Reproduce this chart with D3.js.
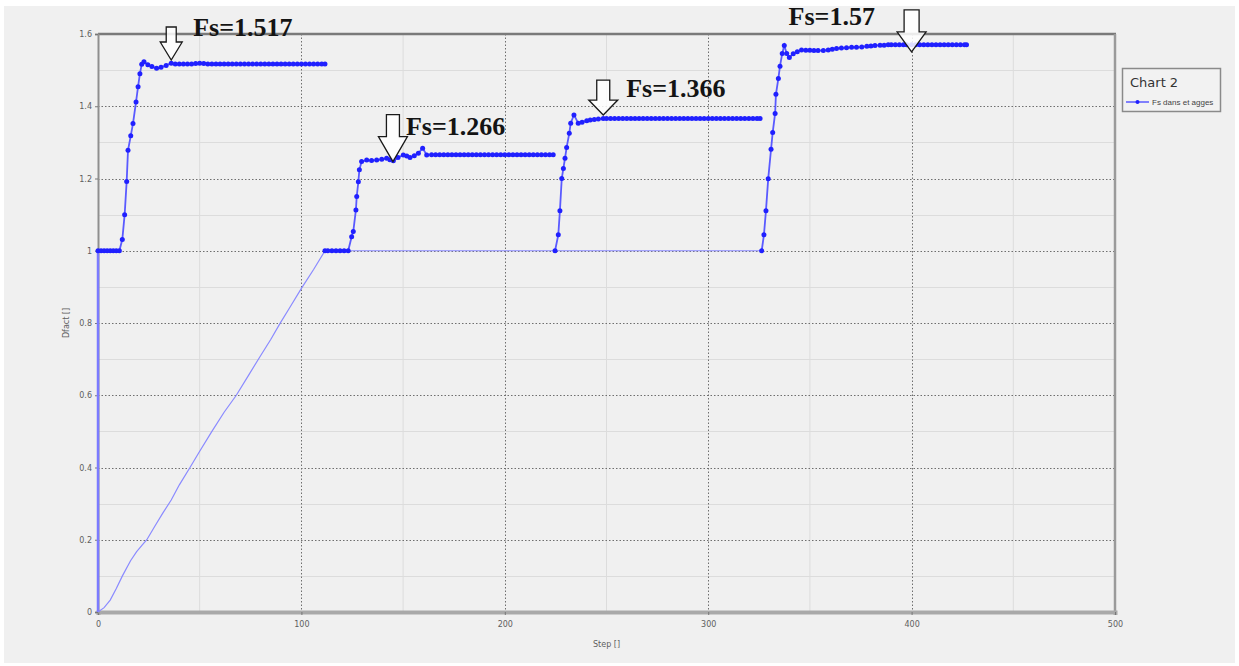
<!DOCTYPE html>
<html>
<head>
<meta charset="utf-8">
<script src="https://cdn.jsdelivr.net/npm/d3@7"></script>
<style>
  html, body { margin: 0; padding: 0; background: #ffffff; }
  svg { display: block; }
</style>
</head>
<body>
<svg id="chart" width="1239" height="666"></svg>
<script>
// ---- data -------------------------------------------------------------
const xTicks = [0, 100, 200, 300, 400, 500];
const xTickLabels = ["0", "100", "200", "300", "400", "500"];
const yTicks = [0, 0.2, 0.4, 0.6, 0.8, 1, 1.2, 1.4, 1.6];
const yTickLabels = ["0", "0.2", "0.4", "0.6", "0.8", "1", "1.2", "1.4", "1.6"];

// thin trace: initial loading ramp and the link between stages
const baseStep = [0, 0, 3, 6, 9, 12, 16, 19, 22, 24, 28, 32, 36, 40, 45, 50, 56, 62, 68, 74, 80, 85, 89.5, 94, 100, 106, 111.6, 224, 327];
const baseFs   = [1, 0, 0.012, 0.033, 0.065, 0.1, 0.142, 0.167, 0.187, 0.2, 0.238, 0.275, 0.31, 0.352, 0.398, 0.445, 0.5, 0.553, 0.6, 0.655, 0.71, 0.755, 0.799, 0.84, 0.896, 0.948, 1, 1, 1];

// stage 1
const stage1Step = [0, 1.5, 3, 4.5, 6, 7.5, 9, 10.5, 11.95, 13.1, 14.1, 14.75, 16.1, 17.2, 18.7, 19.7, 20.6, 21.5, 22.6, 24.5, 26.5, 28.8, 31, 33.5, 36,
  38, 40, 42, 44, 46, 48, 50, 52, 54, 56, 58, 60, 62, 64, 66, 68, 70, 72, 74, 76, 78, 80, 82, 84, 86, 88, 90, 92, 94, 96, 98, 100, 102, 104, 106, 108, 110, 111.6];
const stage1Fs = [1, 1, 1, 1, 1, 1, 1, 1, 1.031, 1.1, 1.192, 1.278, 1.318, 1.352, 1.412, 1.454, 1.49, 1.516, 1.523, 1.515, 1.51, 1.505, 1.508, 1.513, 1.519,
  1.517, 1.517, 1.517, 1.517, 1.517, 1.518, 1.519, 1.518, 1.517, 1.517, 1.517, 1.517, 1.517, 1.517, 1.517, 1.517, 1.517, 1.517, 1.517, 1.517, 1.517, 1.517, 1.517, 1.517, 1.517, 1.517, 1.517, 1.517, 1.517, 1.517, 1.517, 1.517, 1.517, 1.517, 1.517, 1.517, 1.517, 1.517];

// stage 2
const stage2Step = [111.6, 113, 115, 117, 119, 121, 123, 124.7, 125.5, 126.8, 127.2, 128, 128.5, 129.6, 132.1, 134.5, 137, 139.5, 141.9, 143.5, 145.2, 147.5, 150.1, 151.8, 153.4, 155.5, 157.5, 159.6, 161.6, 164,
  166, 168, 170, 172, 174, 176, 178, 180, 182, 184, 186, 188, 190, 192, 194, 196, 198, 200, 202, 204, 206, 208, 210, 212, 214, 216, 218, 220, 222, 223.8];
const stage2Fs = [1, 1, 1, 1, 1, 1, 1, 1.039, 1.053, 1.113, 1.15, 1.191, 1.224, 1.247, 1.251, 1.25, 1.251, 1.253, 1.256, 1.252, 1.249, 1.258, 1.265, 1.262, 1.258, 1.263, 1.27, 1.284, 1.265, 1.266,
  1.266, 1.266, 1.266, 1.266, 1.266, 1.266, 1.266, 1.266, 1.266, 1.266, 1.266, 1.266, 1.266, 1.266, 1.266, 1.266, 1.266, 1.266, 1.266, 1.266, 1.266, 1.266, 1.266, 1.266, 1.266, 1.266, 1.266, 1.266, 1.266, 1.266];

// stage 3
const stage3Step = [224.7, 226.3, 227.1, 228, 228.8, 229.6, 230.4, 231.7, 232.4, 234, 236.1, 238, 240.3, 242, 244, 246, 248.4,
  250, 252, 254, 256, 258, 260, 262, 264, 266, 268, 270, 272, 274, 276, 278, 280, 282, 284, 286, 288, 290, 292, 294, 296, 298, 300, 302, 304, 306, 308, 310, 312, 314, 316, 318, 320, 322, 324, 325.5];
const stage3Fs = [1, 1.044, 1.111, 1.2, 1.228, 1.256, 1.286, 1.325, 1.353, 1.376, 1.353, 1.356, 1.36, 1.362, 1.363, 1.365, 1.366,
  1.366, 1.366, 1.366, 1.366, 1.366, 1.366, 1.366, 1.366, 1.366, 1.366, 1.366, 1.366, 1.366, 1.366, 1.366, 1.366, 1.366, 1.366, 1.366, 1.366, 1.366, 1.366, 1.366, 1.366, 1.366, 1.366, 1.366, 1.366, 1.366, 1.366, 1.366, 1.366, 1.366, 1.366, 1.366, 1.366, 1.366, 1.366, 1.366];

// stage 4
const stage4Step = [326.3, 327.4, 328.4, 329.5, 330.9, 331.7, 332.9, 333.3, 334.5, 335.3, 336.4, 337.4, 338.6, 339.9, 341.8, 343.8, 345.9, 348, 350, 352, 354, 356.6, 359, 361, 363.1, 365.5, 368, 370.5, 372.9, 375.5, 378, 380, 382, 384.5, 386.5, 388.5, 390, 392, 394, 396, 397.6,
  400, 402, 404, 406, 408, 410, 412, 414, 416, 418, 420, 422, 424, 426, 427];
const stage4Fs = [1, 1.044, 1.111, 1.199, 1.281, 1.327, 1.38, 1.433, 1.477, 1.511, 1.546, 1.568, 1.546, 1.535, 1.545, 1.551, 1.556, 1.555, 1.555, 1.554, 1.554, 1.554, 1.556, 1.558, 1.56, 1.561, 1.562, 1.563, 1.563, 1.564, 1.566, 1.567, 1.568, 1.569, 1.569, 1.57, 1.57, 1.57, 1.57, 1.57, 1.57,
  1.57, 1.57, 1.57, 1.57, 1.57, 1.57, 1.57, 1.57, 1.57, 1.57, 1.57, 1.57, 1.57, 1.57, 1.57];

// factor of safety callouts
const calloutText = ["Fs=1.517", "Fs=1.266", "Fs=1.366", "Fs=1.57"];
const calloutFs = [1.517, 1.266, 1.366, 1.57];
const calloutStep = [36, 145, 248.4, 400];

const seriesName = "Fs dans et agges";
const chartTitle = "Chart 2";
const xTitle = "Step []";
const yTitle = "Dfact []";

// ---- layout -----------------------------------------------------------
const plot = { left: 98, right: 1115, top: 34, bottom: 612 };

const svg = d3.select("#chart");

// panel background
svg.append("rect").attr("x", 4).attr("y", 6).attr("width", 1231).attr("height", 657).attr("fill", "#f0f0f0");

const x = d3.scaleLinear().domain([0, 500]).range([plot.left, plot.right]);
const y = d3.scaleLinear().domain([0, 1.6]).range([plot.bottom, plot.top]);

// minor grid
const minorX = d3.range(50, 500, 100);
const minorY = d3.range(0.1, 1.6, 0.2);
const grid = svg.append("g");
grid.selectAll("line.mx").data(minorX).join("line")
  .attr("x1", d => x(d)).attr("x2", d => x(d)).attr("y1", plot.top).attr("y2", plot.bottom)
  .attr("stroke", "#dcdcdc").attr("stroke-width", 1);
grid.selectAll("line.my").data(minorY).join("line")
  .attr("x1", plot.left).attr("x2", plot.right).attr("y1", d => Math.round(y(d)) + 0.5).attr("y2", d => Math.round(y(d)) + 0.5)
  .attr("stroke", "#dcdcdc").attr("stroke-width", 1);

// major grid (dotted)
grid.selectAll("line.gx").data(xTicks.slice(1, -1)).join("line")
  .attr("x1", d => Math.round(x(d)) + 0.5).attr("x2", d => Math.round(x(d)) + 0.5).attr("y1", plot.top).attr("y2", plot.bottom)
  .attr("stroke", "#6e6e6e").attr("stroke-width", 1).attr("stroke-dasharray", "1.5,2");
grid.selectAll("line.gy").data(yTicks.slice(1, -1)).join("line")
  .attr("x1", plot.left).attr("x2", plot.right).attr("y1", d => Math.round(y(d)) + 0.5).attr("y2", d => Math.round(y(d)) + 0.5)
  .attr("stroke", "#6e6e6e").attr("stroke-width", 1).attr("stroke-dasharray", "1.5,2");

// frame
svg.append("line").attr("x1", plot.left).attr("x2", plot.right + 1).attr("y1", plot.top).attr("y2", plot.top)
  .attr("stroke", "#7a7a7a").attr("stroke-width", 2.5);
svg.append("line").attr("x1", plot.right).attr("x2", plot.right).attr("y1", plot.top).attr("y2", plot.bottom)
  .attr("stroke", "#9a9a9a").attr("stroke-width", 2.5);

// axes
const xAxis = d3.axisBottom(x).tickValues(xTicks).tickFormat((d, i) => xTickLabels[i]).tickSize(3).tickPadding(6);
const yAxis = d3.axisLeft(y).tickValues(yTicks).tickFormat((d, i) => yTickLabels[i]).tickSize(3).tickPadding(3);

const gx = svg.append("g").attr("transform", `translate(0,${plot.bottom})`).call(xAxis);
const gy = svg.append("g").attr("transform", `translate(${plot.left},0)`).call(yAxis);
[gx, gy].forEach(g => {
  g.selectAll("text").attr("font-family", "'DejaVu Sans', sans-serif").attr("font-size", 8).attr("fill", "#5e5e5e");
  g.selectAll(".tick line").attr("stroke", "#777");
});
gx.select(".domain").attr("stroke", "#a9a9a9").attr("stroke-width", 4);
gy.select(".domain").attr("stroke", "#8f8f8f").attr("stroke-width", 2);

svg.append("text").attr("x", (plot.left + plot.right) / 2).attr("y", 647)
  .attr("text-anchor", "middle").attr("font-family", "'DejaVu Sans', sans-serif").attr("font-size", 8).attr("fill", "#5e5e5e")
  .text(xTitle);
svg.append("text").attr("transform", `translate(69,${(plot.top + plot.bottom) / 2}) rotate(-90)`)
  .attr("text-anchor", "middle").attr("font-family", "'DejaVu Sans', sans-serif").attr("font-size", 8).attr("fill", "#5e5e5e")
  .text(yTitle);

// ---- series -----------------------------------------------------------
const line = d3.line().x(d => x(d[0])).y(d => y(d[1]));
const zip = (a, b) => a.map((v, i) => [v, b[i]]);

const base = zip(baseStep, baseFs);
svg.append("path").datum(base.slice(0, 2)).attr("d", line)
  .attr("fill", "none").attr("stroke", "#7b7bff").attr("stroke-width", 2.5);
svg.append("path").datum(base.slice(1)).attr("d", line)
  .attr("fill", "none").attr("stroke", "#8a8aff").attr("stroke-width", 1.2);

const stages = [zip(stage1Step, stage1Fs), zip(stage2Step, stage2Fs), zip(stage3Step, stage3Fs), zip(stage4Step, stage4Fs)];
stages.forEach(s => {
  svg.append("path").datum(s).attr("d", line)
    .attr("fill", "none").attr("stroke", "#5a5aff").attr("stroke-width", 1.8);
  svg.append("g").selectAll("circle").data(s).join("circle")
    .attr("cx", d => x(d[0])).attr("cy", d => y(d[1])).attr("r", 2.5)
    .attr("fill", "#2020ff");
});

// ---- callouts ---------------------------------------------------------
const arrowDims = [
  { w: 22, sw: 10, h: 33, hh: 18, dy: -4, tx: 22, ty: -24 },
  { w: 29, sw: 13, h: 47, hh: 25, dy: 7, tx: 13, ty: -27 },
  { w: 29, sw: 13, h: 35, hh: 15, dy: -3.5, tx: 23, ty: -18 },
  { w: 29, sw: 15, h: 42, hh: 20, dy: 7, tx: -123, ty: -27 }
];
calloutStep.forEach((st, i) => {
  const a = arrowDims[i];
  const tx = x(st), ty = y(calloutFs[i]) + a.dy;
  const top = ty - a.h, neck = ty - a.hh;
  const pts = [
    [tx - a.sw / 2, top], [tx + a.sw / 2, top], [tx + a.sw / 2, neck], [tx + a.w / 2, neck],
    [tx, ty], [tx - a.w / 2, neck], [tx - a.sw / 2, neck]
  ];
  svg.append("path").attr("d", d3.line()(pts) + "Z")
    .attr("fill", "#ffffff").attr("fill-opacity", 0.85).attr("stroke", "#1a1a1a").attr("stroke-width", 1.3)
    .attr("stroke-linejoin", "miter");
  svg.append("text").attr("x", tx + a.tx).attr("y", ty + a.ty)
    .attr("font-family", "'Liberation Serif', 'Times New Roman', serif").attr("font-weight", "bold")
    .attr("font-size", 26).attr("fill", "#141414")
    .text(calloutText[i]);
});

// ---- legend -----------------------------------------------------------
const lg = svg.append("g");
lg.append("rect").attr("x", 1122.5).attr("y", 68.5).attr("width", 98).attr("height", 43)
  .attr("fill", "#f2f2f2").attr("stroke", "#8a8a8a").attr("stroke-width", 1.5);
lg.append("text").attr("x", 1130).attr("y", 87).attr("font-family", "'DejaVu Sans', sans-serif")
  .attr("font-size", 13).attr("fill", "#333").text(chartTitle);
lg.append("line").attr("x1", 1126).attr("x2", 1149).attr("y1", 102).attr("y2", 102)
  .attr("stroke", "#5a5aff").attr("stroke-width", 1.5);
lg.append("circle").attr("cx", 1137.5).attr("cy", 102).attr("r", 2).attr("fill", "#2020ff");
lg.append("text").attr("x", 1152).attr("y", 104.5).attr("font-family", "'Liberation Sans', sans-serif")
  .attr("font-size", 8).attr("fill", "#444").text(seriesName);
</script>
</body>
</html>
